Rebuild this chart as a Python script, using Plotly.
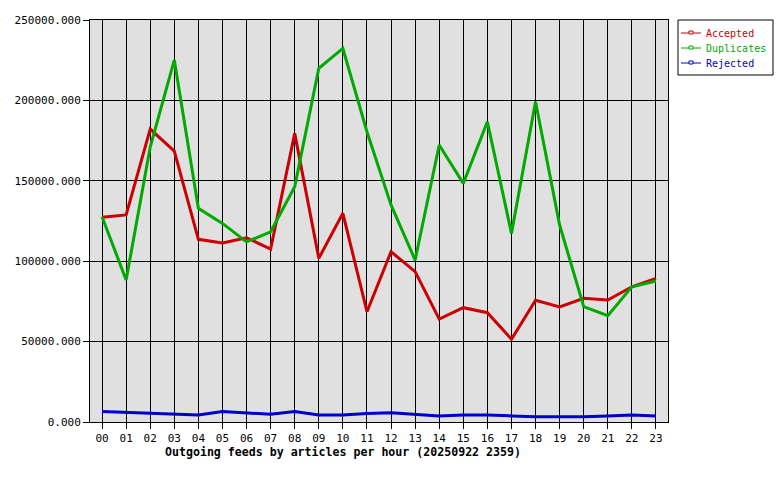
import plotly.graph_objects as go

hours = [f"{h:02d}" for h in range(24)]
accepted = [127300, 128800, 182200, 168500, 113600, 111300, 114600, 107500, 179500, 101800, 129800, 68600,
            105900, 93500, 64000, 71100, 68000, 51500, 75700, 71500, 76900, 75900, 84100, 89300]
duplicates = [127700, 88300, 171000, 225100, 132900, 123500, 112000, 118300, 146300, 219900, 232300, 180500,
              135000, 100700, 172300, 148400, 186700, 117300, 199200, 122500, 71700, 66100, 84100, 87700]
rejected = [6600, 6000, 5300, 5000, 4300, 6500, 5500, 4800, 6500, 4300, 4300, 5300,
            5800, 5000, 3800, 4300, 4300, 3800, 3200, 3200, 3200, 3700, 4300, 3700]

series = [("Accepted", accepted, "#cc0000"),
          ("Duplicates", duplicates, "#00aa00"),
          ("Rejected", rejected, "#0000cc")]

FONT = "DejaVu Sans Mono"
L, R, T, B = 90, 112, 20, 58
W, H = 780, 480
PW, PH = W - L - R, H - T - B

def px(xp):
    return (xp - L) / PW

def py(yp):
    return (H - B - yp) / PH

fig = go.Figure()
for name, vals, col in series:
    fig.add_trace(go.Scatter(
        x=list(range(24)), y=vals, mode="lines", name=name,
        line=dict(color=col, width=3), showlegend=False,
    ))

shapes = [dict(type="rect", xref="paper", yref="paper",
               x0=px(678), x1=px(773), y0=py(20), y1=py(75),
               line=dict(color="black", width=1), fillcolor="white", layer="above")]
annotations = []
for i, (name, vals, col) in enumerate(series):
    yy = 33 + 15 * i
    shapes.append(dict(type="line", xref="paper", yref="paper",
                       x0=px(681), x1=px(701), y0=py(yy), y1=py(yy),
                       line=dict(color=col, width=1), layer="above"))
    shapes.append(dict(type="rect", xref="paper", yref="paper",
                       x0=px(689), x1=px(693), y0=py(yy - 2), y1=py(yy + 1),
                       line=dict(color=col, width=1), fillcolor="white", layer="above"))
    annotations.append(dict(text=name, xref="paper", yref="paper", x=px(704), y=py(yy),
                            xanchor="left", yanchor="middle", showarrow=False,
                            font=dict(family=FONT, size=10, color=col)))

annotations.append(dict(text="<b>Outgoing feeds by articles per hour (20250922 2359)</b>",
                        xref="paper", yref="paper", x=px(343), y=py(452),
                        xanchor="center", yanchor="middle", showarrow=False,
                        font=dict(family=FONT, size=11.6, color="black")))

fig.update_layout(
    width=W, height=H,
    margin=dict(l=L, r=R, t=T, b=B),
    paper_bgcolor="white", plot_bgcolor="#e0e0e0",
    font=dict(family=FONT, size=11, color="black"),
    showlegend=False,
    xaxis=dict(range=[-0.5, 23.5], tickmode="array", tickvals=list(range(24)), ticktext=hours,
               showgrid=True, gridcolor="black", gridwidth=1, zeroline=False,
               showline=True, linecolor="black", linewidth=1, mirror=True,
               ticks="outside", ticklen=6, tickcolor="black", fixedrange=True),
    yaxis=dict(range=[0, 250000], tickmode="array",
               tickvals=[0, 50000, 100000, 150000, 200000, 250000],
               ticktext=[f"{v:.3f}" for v in [0, 50000, 100000, 150000, 200000, 250000]],
               showgrid=True, gridcolor="black", gridwidth=1, zeroline=False,
               showline=True, linecolor="black", linewidth=1, mirror=True,
               ticks="outside", ticklen=6, tickcolor="black", fixedrange=True),
    shapes=shapes,
    annotations=annotations,
)

fig.write_html("out.html")
